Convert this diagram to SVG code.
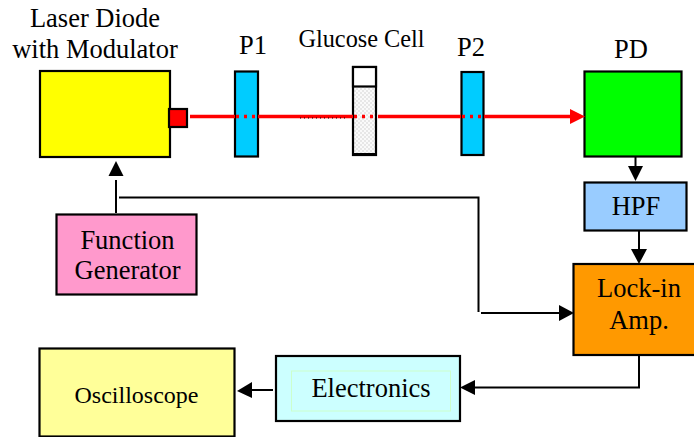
<svg xmlns="http://www.w3.org/2000/svg" width="694" height="437" viewBox="0 0 694 437">
<style>
text{font-family:"Liberation Serif","Times New Roman",serif;font-size:26.500px;fill:#000;text-anchor:middle}
.b{stroke:#000;stroke-width:2.200}
.c{fill:none;stroke:#000;stroke-width:2}
.r{fill:none;stroke:#f00;stroke-width:3.500}
.d{stroke-dasharray:3 5}
</style>
<defs>
<pattern id="dots" width="4" height="4" patternUnits="userSpaceOnUse"><rect width="4" height="4" fill="#fafafa"/><circle cx="1" cy="1" r="0.8" fill="#cfcfcf"/><circle cx="3" cy="3" r="0.8" fill="#cfcfcf"/></pattern>
</defs>
<rect width="694" height="437" fill="#fff"/>
<g id="laser"><rect class="b" x="40" y="71" width="130" height="86" fill="#ff0"/><rect class="b" x="169" y="109" width="18" height="18" fill="#f00"/>
<text x="95" y="27">Laser Diode</text><text x="95" y="58">with Modulator</text></g>
<g id="p1"><rect class="b" x="235" y="71.500" width="23" height="85" fill="#0cf"/><text x="253" y="54">P1</text></g>
<g id="cell"><rect class="b" x="353" y="67" width="23" height="88" fill="url(#dots)"/><rect class="b" x="353" y="67" width="23" height="19.500" fill="#fff"/><rect x="353" y="153" width="23" height="2.500" fill="#000"/><text x="361.500" y="47" style="font-size:24.300px">Glucose Cell</text></g>
<g id="p2"><rect class="b" x="461.500" y="72" width="22" height="83" fill="#0cf"/><text x="471" y="56">P2</text></g>
<g id="pd"><rect class="b" x="584.500" y="71.500" width="97" height="85" fill="#0f0"/><text x="631" y="58">PD</text></g>
<g id="hpf"><rect class="b" x="584.500" y="182.500" width="102" height="48" fill="#9cf"/><text x="636" y="215">HPF</text></g>
<g id="lockin"><rect class="b" x="573.500" y="264" width="125" height="91" fill="#f90"/><text x="639" y="297">Lock-in</text><text x="639" y="329">Amp.</text></g>
<g id="fg"><rect class="b" x="56.500" y="214.500" width="140" height="80" fill="#f9c"/><text x="127.500" y="249">Function</text><text x="127.500" y="279">Generator</text></g>
<g id="electronics"><rect class="b" x="276" y="356" width="184" height="65" fill="#cff"/><rect x="291.500" y="371" width="159" height="40" fill="none" stroke="#ccffcc" stroke-width="1"/><text x="371" y="397">Electronics</text></g>
<g id="scope"><rect class="b" x="39.500" y="348.500" width="195" height="88" fill="#ff9"/><text x="136.500" y="403" style="font-size:24px">Oscilloscope</text></g>
<g id="connectors">
<path class="r" d="M190 116.500H235"/><path class="r d" d="M236 116.500H258"/>
<path class="r" d="M258 116.500H353"/><path class="r d" d="M354 116.500H378"/>
<path class="r" d="M378 116.500H461"/><path class="r d" d="M462 116.500H484"/>
<path class="r" d="M484 116.500H572"/>
<path d="M570 109L585 116.500L570 124Z" fill="#f00"/>
<path d="M300 118H346" fill="none" stroke="#000" stroke-width="1" stroke-dasharray="1 3"/>
<path class="c" d="M635.500 157V170"/><path d="M628 166H643L635.500 181Z"/>
<path class="c" d="M639 231V250"/><path d="M631 249H647L639 264Z"/>
<path class="c" d="M116 213V180"/><path d="M108.500 176L116 161L123.500 176Z"/>
<path class="c" d="M119 197.500H478.500V312"/>
<path class="c" d="M481 313H560"/><path d="M559 305L574 313L559 321Z"/>
<path class="c" d="M639 355V387.500H474"/><path d="M475 380L460 387.500L475 395Z"/>
<path class="c" d="M273 390H250"/><path d="M252 382L237 391L252 398Z"/>
</g>
</svg>
